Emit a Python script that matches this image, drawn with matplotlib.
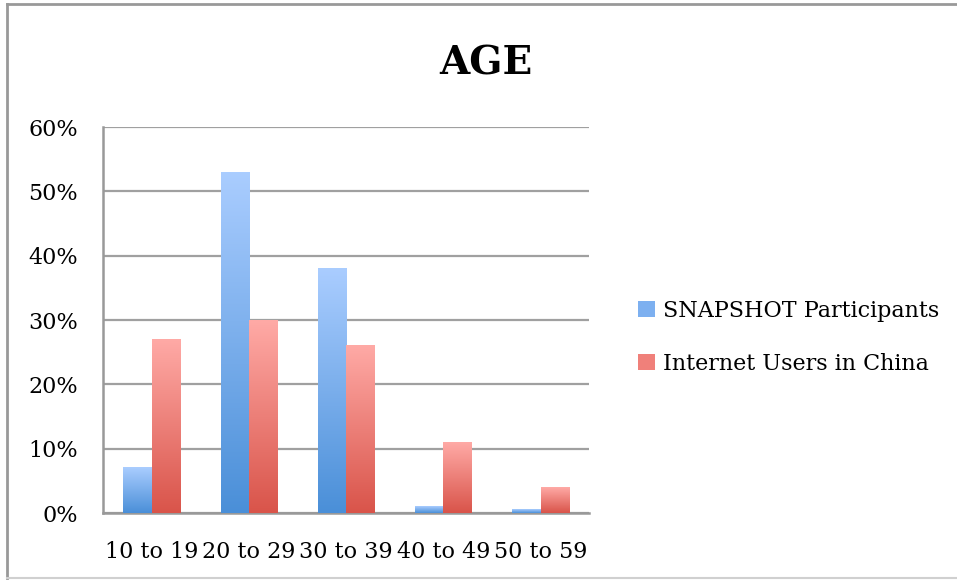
import numpy as np
import matplotlib.pyplot as plt
from matplotlib.colors import LinearSegmentedColormap
from matplotlib.patches import Patch
from matplotlib.lines import Line2D

categories = ['10 to 19', '20 to 29', '30 to 39', '40 to 49', '50 to 59']
snapshot = [7, 53, 38, 1, 0.5]
internet = [27, 30, 26, 11, 4]
series_names = ['SNAPSHOT Participants', 'Internet Users in China']

plt.rcParams['font.family'] = ['DejaVu Serif']

blue_cmap = LinearSegmentedColormap.from_list('blue', ['#4a8fd8', '#aacdff'])
red_cmap = LinearSegmentedColormap.from_list('red', ['#d9544a', '#ffaaa6'])

fig = plt.figure(figsize=(9.57, 5.80), dpi=100)
ax = fig.add_axes([0.1076, 0.1155, 0.508, 0.6655])

x = np.arange(len(categories))
w = 0.29
grad = np.linspace(0, 1, 256).reshape(-1, 1)


def gradient_bars(xpos, values, cmap):
    bars = ax.bar(xpos, values, w, color='none', edgecolor='none', zorder=3)
    for b in bars:
        x0 = b.get_x()
        ax.imshow(grad, extent=[x0, x0 + b.get_width(), 0, b.get_height()],
                  aspect='auto', cmap=cmap, origin='lower', zorder=3)


gradient_bars(x - w / 2, snapshot, blue_cmap)
gradient_bars(x + w / 2, internet, red_cmap)

ax.set_xlim(-0.5, len(categories) - 0.5)
ax.set_ylim(0, 60)
ax.set_yticks(np.arange(0, 61, 10))
ax.set_yticklabels([f'{v}%' for v in range(0, 61, 10)])
ax.set_xticks(x)
ax.set_xticklabels(categories)
ax.tick_params(axis='both', length=0, labelsize=16)
ax.tick_params(axis='x', pad=20)
ax.tick_params(axis='y', pad=18)

ax.grid(axis='y', color='#a0a0a0', linewidth=1.6, zorder=1)
ax.set_axisbelow(True)
for s in ['top', 'right']:
    ax.spines[s].set_visible(False)
for s in ['left', 'bottom']:
    ax.spines[s].set_color('#999999')
    ax.spines[s].set_linewidth(1.8)

fig.text(0.508, 0.89, 'AGE', fontsize=28, fontweight='bold', ha='center', va='center')

handles = [Patch(facecolor='#7db0f0'), Patch(facecolor='#f0807a')]
fig.legend(handles, series_names, loc='upper left', bbox_to_anchor=(0.646, 0.518),
           frameon=False, fontsize=16, handlelength=0.75, handleheight=0.75,
           handletextpad=0.35, labelspacing=1.4)

# chart border
fig.add_artist(Line2D([0.0073, 0.0073], [0.003, 0.993], color='#999999', lw=2, transform=fig.transFigure))
fig.add_artist(Line2D([0.0073, 1.0], [0.993, 0.993], color='#999999', lw=2, transform=fig.transFigure))
fig.add_artist(Line2D([0.0073, 1.0], [0.004, 0.004], color='#d0d0d0', lw=1.5, transform=fig.transFigure))

fig.savefig('out.png', dpi=100)
